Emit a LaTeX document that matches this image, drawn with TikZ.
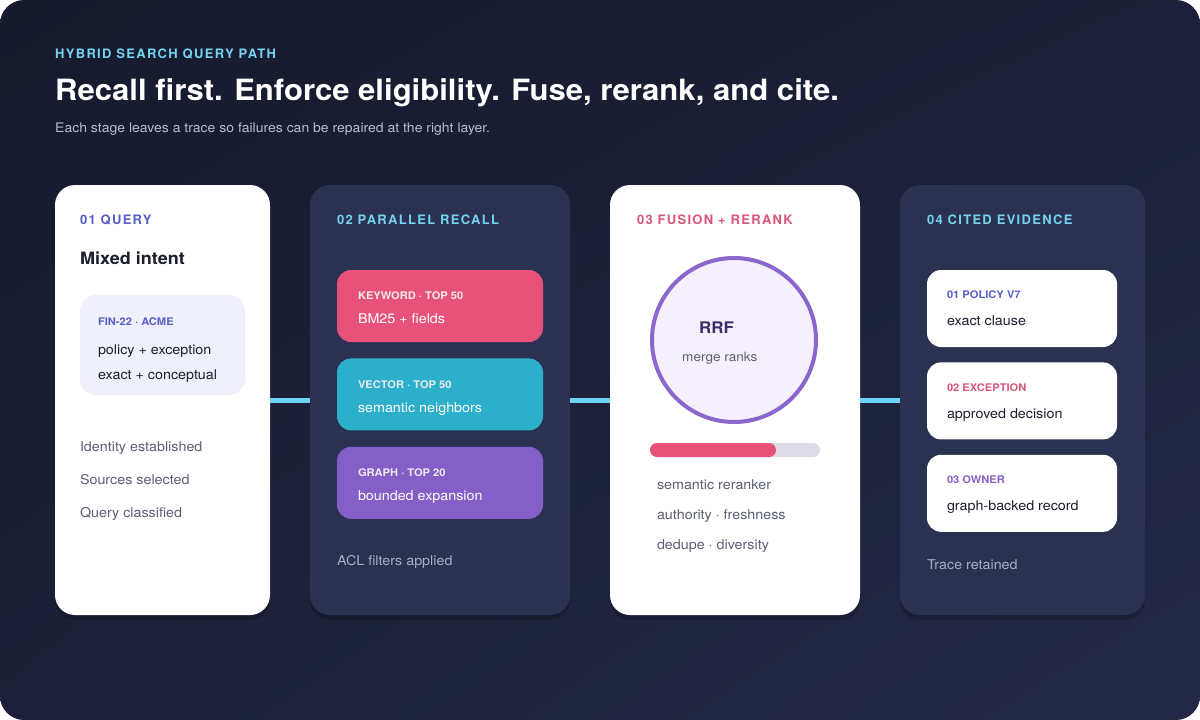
\documentclass[tikz,border=0pt]{standalone}
\usepackage{fontspec}
\setmainfont{texgyreheros}[Extension=.otf, UprightFont=*-regular, BoldFont=*-bold, FakeStretch=1.06]
\newfontfamily\kickerfont{texgyreheros}[Extension=.otf, UprightFont=*-regular, BoldFont=*-bold, LetterSpace=10]
\usetikzlibrary{positioning,shadows,shadings,calc}

\definecolor{bgTop}{HTML}{161A2D}
\definecolor{bgMid}{HTML}{1C2038}
\definecolor{bgLow}{HTML}{232847}
\definecolor{cardNight}{HTML}{2B3251}
\definecolor{linkCyan}{HTML}{6DD3F4}
\definecolor{kickCyan}{HTML}{74D3EE}
\definecolor{inkIndigo}{HTML}{5A5FC6}
\definecolor{inkRose}{HTML}{D8557C}
\definecolor{inkViolet}{HTML}{8A60C8}
\definecolor{keywordRed}{HTML}{E8527A}
\definecolor{vectorTeal}{HTML}{2BAFCB}
\definecolor{graphPurple}{HTML}{835FC7}
\definecolor{inkDark}{HTML}{1C1E2E}
\definecolor{inkGrey}{HTML}{5C5F72}
\definecolor{inkMuted}{HTML}{A9ADC8}
\definecolor{subGrey}{HTML}{B9BCD4}
\definecolor{chipLilac}{HTML}{F0F0FC}
\definecolor{rrfLilac}{HTML}{F6F0FD}
\definecolor{rrfRing}{HTML}{8B66CC}
\definecolor{rrfInk}{HTML}{3A2F68}
\definecolor{barTrack}{HTML}{DDDBE7}

\begin{document}
\begin{tikzpicture}[x=1pt,y=-1pt,
  card/.style={fill=#1, rounded corners=20pt, minimum height=430pt, inner sep=0pt,
    drop shadow={shadow xshift=0pt, shadow yshift=-5pt, opacity=.18, fill=black}},
  lane/.style={fill=#1, rounded corners=14pt, minimum width=206pt, minimum height=72pt, inner sep=0pt},
  cite/.style={fill=white, rounded corners=14pt, minimum width=190pt, minimum height=77pt, inner sep=0pt},
  kicker/.style={anchor=base west, inner sep=0pt, text=#1, font=\kickerfont\bfseries\fontsize{13}{13}\selectfont},
  tag/.style={anchor=base west, inner sep=0pt, text=#1, font=\bfseries\fontsize{10.5}{10.5}\selectfont},
  line/.style={anchor=base west, inner sep=0pt, text=#1, font=\fontsize{13.5}{13.5}\selectfont},
  link/.style={draw=linkCyan, line width=5pt}]

\fill[white] (0,0) rectangle (1200,720);
\shade[rounded corners=24pt, upper left=bgTop, upper right=bgMid, lower left=bgMid, lower right=bgLow]
  (0,0) rectangle (1200,720);

\node[kicker=kickCyan] (kick) at (55,58) {HYBRID SEARCH QUERY PATH};
\node[anchor=base west, inner sep=0pt, text=white, font=\bfseries\fontsize{29.3}{29.3}\selectfont]
  (title) at (55,100) {Recall first. Enforce eligibility. Fuse, rerank, and cite.};
\node[line=subGrey, font=\fontsize{13.2}{13.2}\selectfont] (sub) at (55,132)
  {Each stage leaves a trace so failures can be repaired at the right layer.};

\node[card=white, minimum width=215pt] (query) at (162.5,400) {};
\node[card=cardNight, minimum width=260pt] (recall) at (440,400) {};
\node[card=white, minimum width=250pt] (fusion) at (735,400) {};
\node[card=cardNight, minimum width=245pt] (evidence) at (1022.5,400) {};

\draw[link] (query.east) -- (recall.west);
\draw[link] (recall.east) -- (fusion.west);
\draw[link] (fusion.east) -- (evidence.west);

\node[kicker=inkIndigo] (q-kick) at ($(query.north west)+(25,40)$) {01 QUERY};
\node[anchor=base west, inner sep=0pt, text=inkDark, font=\bfseries\fontsize{17}{17}\selectfont]
  (q-head) at ($(query.north west)+(25,80)$) {Mixed intent};
\node[fill=chipLilac, rounded corners=16pt, minimum width=165pt, minimum height=100pt, inner sep=0pt]
  (chip) at (162.5,345) {};
\node[tag=inkIndigo] (chip-tag) at ($(chip.north west)+(18,31)$) {FIN-22 · ACME};
\node[line=inkDark] (chip-a) at ($(chip.north west)+(18,60)$) {policy + exception};
\node[line=inkDark] (chip-b) at ($(chip.north west)+(18,85)$) {exact + conceptual};
\node[line=inkGrey] (q-a) at ($(query.north west)+(25,267)$) {Identity established};
\node[line=inkGrey] (q-b) at ($(query.north west)+(25,300)$) {Sources selected};
\node[line=inkGrey] (q-c) at ($(query.north west)+(25,333)$) {Query classified};

\node[kicker=kickCyan] (r-kick) at ($(recall.north west)+(27,40)$) {02 PARALLEL RECALL};
\node[lane=keywordRed] (kw) at (440,306) {};
\node[lane=vectorTeal, below=16pt of kw] (vec) {};
\node[lane=graphPurple, below=16pt of vec] (grf) {};
\foreach \lanename/\head/\body in {kw/KEYWORD · TOP 50/BM25 + fields,
                                   vec/VECTOR · TOP 50/semantic neighbors,
                                   grf/GRAPH · TOP 20/bounded expansion}{
  \node[tag=white!92!black] (\lanename-tag) at ($(\lanename.north west)+(21,30)$) {\head};
  \node[line=white] (\lanename-body) at ($(\lanename.north west)+(21,54)$) {\body};
}
\node[line=inkMuted] (r-note) at ($(recall.north west)+(27,381)$) {ACL filters applied};

\node[kicker=inkRose] (f-kick) at ($(fusion.north west)+(27,40)$) {03 FUSION + RERANK};
\node[circle, draw=rrfRing, line width=4pt, fill=rrfLilac, minimum size=164pt] (rrf) at (734,340) {};
\node[anchor=base west, inner sep=0pt, text=rrfInk, font=\bfseries\fontsize{16}{16}\selectfont]
  (rrf-head) at (699,333) {RRF};
\node[line=inkGrey, font=\fontsize{12.8}{12.8}\selectfont] (rrf-body) at (682,361) {merge ranks};
\fill[barTrack, rounded corners=7pt] (650,443) rectangle (820,457);
\fill[keywordRed, rounded corners=7pt] (650,443) rectangle (776,457);
\node[line=inkGrey] (f-a) at ($(fusion.north west)+(47,305)$) {semantic reranker};
\node[line=inkGrey] (f-b) at ($(fusion.north west)+(47,335)$) {authority · freshness};
\node[line=inkGrey] (f-c) at ($(fusion.north west)+(47,365)$) {dedupe · diversity};

\node[kicker=kickCyan] (e-kick) at ($(evidence.north west)+(27,40)$) {04 CITED EVIDENCE};
\node[cite] (pol) at (1022,308.5) {};
\node[cite, below=15pt of pol] (exc) {};
\node[cite, below=15pt of exc] (own) {};
\foreach \citename/\ink/\head/\body in {pol/inkIndigo/01 POLICY V7/exact clause,
                                        exc/inkRose/02 EXCEPTION/approved decision,
                                        own/inkViolet/03 OWNER/graph-backed record}{
  \node[tag=\ink] (\citename-tag) at ($(\citename.north west)+(20,29)$) {\head};
  \node[line=inkDark] (\citename-body) at ($(\citename.north west)+(20,56)$) {\body};
}
\node[line=inkMuted] (e-note) at ($(evidence.north west)+(27,385)$) {Trace retained};

\end{tikzpicture}
\end{document}
